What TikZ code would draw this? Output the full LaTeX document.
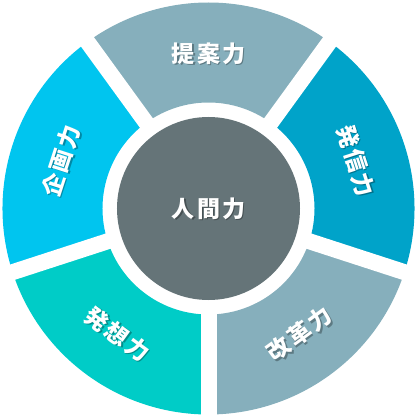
\documentclass[tikz,border=0pt]{standalone}
\usepackage{fontspec}
\newfontfamily\jpfont[LetterSpace=10]{Noto Sans CJK JP}
\usetikzlibrary{calc}
\definecolor{grayblue}{HTML}{86AFBC}
\definecolor{deepblue}{HTML}{00A3C9}
\definecolor{skyblue}{HTML}{00C5EF}
\definecolor{teal}{HTML}{00CCC7}
\definecolor{core}{HTML}{657478}
\tikzset{
  % a piece of the ring, between the cuts
  ringpart/.style={draw=none},
  % the white cut between two pieces
  cut/.style={draw=white, line width=16pt},
  % white text with a soft shadow behind it
  lbl/.style={font=\jpfont\bfseries\fontsize{23}{27}\selectfont,
    text=white, inner sep=0pt},
  lblshadow/.style={lbl, text=black, opacity=0.3},
}
% a label in the ring, turned along it
\newcommand{\ringlabel}[4]{%
  \node[lblshadow, rotate=#3] at ($(#2:155)+(1.5,-1.5)$) {#4};
  \node[lbl, rotate=#3] (#1) at (#2:155) {#4};}

\begin{document}
\begin{tikzpicture}[x=1pt, y=1pt]

\useasboundingbox (-208.5,-208.5) rectangle (208.5,208.5);

\coordinate (c) at (0,0);

% ring pieces
\fill[ringpart, grayblue] (54:106) arc[start angle=54, end angle=126, radius=106]
  -- (126:206) arc[start angle=126, end angle=54, radius=206] -- cycle;
\fill[ringpart, deepblue] (-18:106) arc[start angle=-18, end angle=54, radius=106]
  -- (54:206) arc[start angle=54, end angle=-18, radius=206] -- cycle;
\fill[ringpart, grayblue] (-90:106) arc[start angle=-90, end angle=-18, radius=106]
  -- (-18:206) arc[start angle=-18, end angle=-90, radius=206] -- cycle;
\fill[ringpart, teal] (-162:106) arc[start angle=-162, end angle=-90, radius=106]
  -- (-90:206) arc[start angle=-90, end angle=-162, radius=206] -- cycle;
\fill[ringpart, skyblue] (126:106) arc[start angle=126, end angle=198, radius=106]
  -- (198:206) arc[start angle=198, end angle=126, radius=206] -- cycle;

% cuts
\foreach \a in {54,126,198,270,342}{
  \coordinate (cut\a) at (\a:212);
  \draw[cut] (c) -- (cut\a);
}

% centre
\fill[core] (c) circle[radius=91.5];

\ringlabel{teian}{90}{0}{提案力}
\ringlabel{hasshin}{18}{-72}{発信力}
\ringlabel{kaikaku}{-54}{36}{改革力}
\ringlabel{hassou}{-126}{-36}{発想力}
\ringlabel{kikaku}{162}{72}{企画力}

\node[lblshadow] at (1.5,-1.5) {人間力};
\node[lbl] (ningen) at (c) {人間力};

\end{tikzpicture}
\end{document}
